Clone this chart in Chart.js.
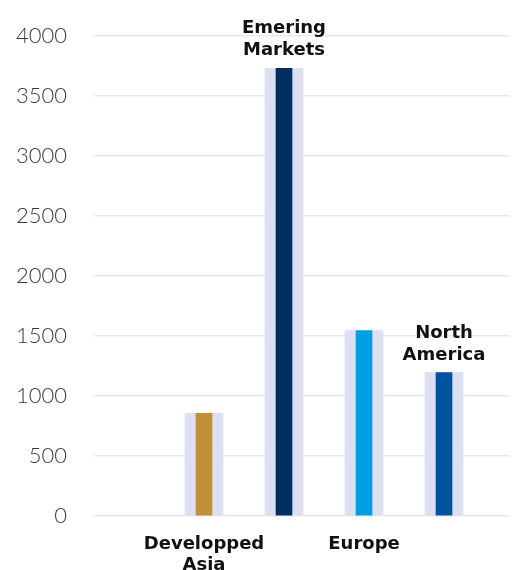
<!DOCTYPE html>
<html>
<head>
<meta charset="utf-8">
<script src="https://cdn.jsdelivr.net/npm/chart.js@4/dist/chart.umd.min.js"></script>
<style>
  html, body { margin: 0; padding: 0; background: #fff; }
  #wrap { width: 516px; height: 570px; }
</style>
</head>
<body>
<div id="wrap"><canvas id="regionChart"></canvas></div>
<script>
// Regions and their values
const regions = [['Developped', 'Asia'], ['Emering', 'Markets'], ['Europe'], ['North', 'America']];
const regionValues = [855, 3730, 1545, 1195];
const regionColors = ['#c19036', '#00305f', '#009fe3', '#00519e'];
const yMin = 0, yMax = 4000, yStep = 500;

const LABEL_FONT = '700 18px "DejaVu Sans", sans-serif';

const points = regionValues.map((v, i) => ({ x: i + 1, y: v }));

// odd regions get their name above the bar instead of under the axis
const topLabels = {
    id: 'topLabels',
    afterDatasetsDraw(chart) {
        const { ctx } = chart;
        const meta = chart.getDatasetMeta(0);
        ctx.save();
        ctx.font = LABEL_FONT;
        ctx.fillStyle = '#111';
        ctx.textAlign = 'center';
        ctx.textBaseline = 'alphabetic';
        meta.data.forEach((bar, i) => {
            if (i % 2 === 0) return;
            const lines = regions[i];
            let y = bar.y - 13;
            for (let k = lines.length - 1; k >= 0; k--) {
                ctx.fillText(lines[k], bar.x, y);
                y -= 22;
            }
        });
        ctx.restore();
    }
};

new Chart(document.getElementById('regionChart'), {
    type: 'bar',
    data: {
        datasets: [{
            data: points,
            backgroundColor: regionColors,
            barThickness: 16,
            grouped: false
        }, {
            data: points,
            backgroundColor: '#dddff2',
            barThickness: 38,
            grouped: false
        }]
    },
    options: {
        responsive: true,
        maintainAspectRatio: false,
        animation: false,
        layout: { padding: { top: 36, right: 6, left: 0, bottom: 0 } },
        plugins: {
            legend: { display: false },
            tooltip: { enabled: false }
        },
        scales: {
            x: {
                type: 'linear',
                min: -0.375,
                max: 4.825,
                offset: false,
                grid: { display: false },
                border: { display: false },
                afterBuildTicks: (scale) => {
                    scale.ticks = regions.map((r, i) => ({ value: i + 1 }));
                },
                afterFit: (scale) => {
                    scale.height = 54;
                    scale.paddingLeft = 0;
                    scale.paddingRight = 0;
                },
                ticks: {
                    autoSkip: false,
                    maxRotation: 0,
                    padding: 10,
                    color: '#111',
                    font: { family: '"DejaVu Sans", sans-serif', size: 18, weight: '700', lineHeight: 1.15 },
                    callback: (value, index) => (index % 2 === 0 ? regions[index] : '')
                }
            },
            y: {
                min: yMin,
                max: yMax,
                afterFit: (scale) => {
                    scale.width = 94;
                    scale.paddingTop = 0;
                    scale.paddingBottom = 0;
                },
                border: { display: false },
                grid: { color: '#e9e9e9', lineWidth: 1.5, drawTicks: false },
                ticks: {
                    stepSize: yStep,
                    padding: 27,
                    color: '#3a3a3a',
                    font: { family: 'Lato, sans-serif', size: 22, weight: '300' },
                    callback: (value) => String(value)
                }
            }
        }
    },
    plugins: [topLabels]
});
</script>
</body>
</html>
